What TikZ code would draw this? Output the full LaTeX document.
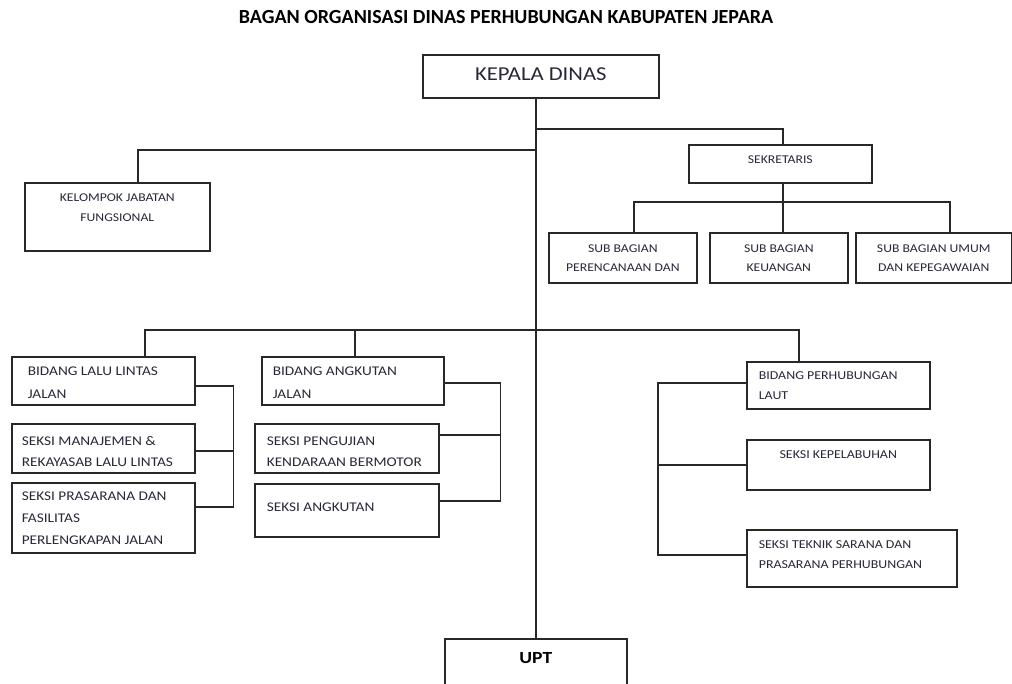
\documentclass[tikz,border=0pt]{standalone}
\usepackage{fontspec}
\setmainfont{Carlito}
\newfontfamily\boxfont[FakeStretch=1.15]{Carlito}

\definecolor{ink}{RGB}{40,40,55}
\definecolor{rule}{RGB}{40,40,40}

\newcommand{\unittext}[5]{\parbox[c][#2][t]{#1}{\vspace*{#3}#4#5}}
\newcommand{\midfmt}[2]{\boxfont\fontsize{#1}{#2}\selectfont\centering}
\newcommand{\leftfmt}[3]{\boxfont\fontsize{#1}{#2}\selectfont\leftskip=#3\relax}

\tikzset{
  unit/.style={draw=rule, line width=1.6pt, inner sep=0pt, anchor=north west, text=ink},
  link/.style={draw=rule, line width=1.6pt},
}

\begin{document}
\begin{tikzpicture}[x=1pt,y=-1pt]
\useasboundingbox (0,0) rectangle (1012,684);

\node[font=\fontsize{20}{24}\selectfont\bfseries] (title) at (506,17) {BAGAN ORGANISASI DINAS PERHUBUNGAN KABUPATEN JEPARA};

\node[unit] (kepala) at (422,54) {\unittext{236pt}{43pt}{13.2pt}{\midfmt{19.7}{24}}{KEPALA DINAS}};
\node[unit] (kjf) at (24,182) {\unittext{185pt}{68pt}{11.2pt}{\midfmt{11.9}{20}}{KELOMPOK JABATAN\\FUNGSIONAL}};
\node[unit] (sek) at (688,144) {\unittext{183pt}{38pt}{11.2pt}{\midfmt{11.9}{19}}{SEKRETARIS}};
\node[unit] (sbp) at (548,232) {\unittext{148pt}{50pt}{12.2pt}{\midfmt{11.9}{19}}{SUB BAGIAN\\PERENCANAAN DAN}};
\node[unit] (sbk) at (709,232) {\unittext{138pt}{50pt}{12.2pt}{\midfmt{11.9}{19}}{SUB BAGIAN\\KEUANGAN}};
\node[unit] (sbu) at (855,232) {\unittext{156pt}{50pt}{12.2pt}{\midfmt{11.9}{19}}{SUB BAGIAN UMUM\\DAN KEPEGAWAIAN}};

\node[unit] (llaj) at (11,356) {\unittext{183pt}{48pt}{9.7pt}{\leftfmt{13.3}{23}{16pt}}{BIDANG LALU LINTAS\\JALAN}};
\node[unit] (smr) at (11,423) {\unittext{183pt}{49pt}{12.7pt}{\leftfmt{13.3}{21}{10pt}}{SEKSI MANAJEMEN \&\\REKAYASAB LALU LINTAS}};
\node[unit] (spf) at (11,482) {\unittext{183pt}{70pt}{8.7pt}{\leftfmt{13.3}{22}{10pt}}{SEKSI PRASARANA DAN\\FASILITAS\\PERLENGKAPAN JALAN}};

\node[unit] (baj) at (261,356) {\unittext{182pt}{48pt}{9.7pt}{\leftfmt{13.3}{23}{11pt}}{BIDANG ANGKUTAN\\JALAN}};
\node[unit] (spk) at (254,423) {\unittext{184pt}{49pt}{12.7pt}{\leftfmt{13.3}{21}{12pt}}{SEKSI PENGUJIAN\\KENDARAAN BERMOTOR}};
\node[unit] (sa) at (254,483) {\unittext{184pt}{53pt}{18.7pt}{\leftfmt{13.3}{21}{12pt}}{SEKSI ANGKUTAN}};

\node[unit] (bphl) at (746,361) {\unittext{183pt}{47pt}{10.1pt}{\leftfmt{12.1}{20}{12pt}}{BIDANG PERHUBUNGAN\\LAUT}};
\node[unit] (skp) at (746,439) {\unittext{183pt}{50pt}{11.1pt}{\midfmt{12.1}{20}}{SEKSI KEPELABUHAN}};
\node[unit] (stsp) at (746,529) {\unittext{210pt}{57pt}{11.1pt}{\leftfmt{12.1}{20}{12pt}}{SEKSI TEKNIK SARANA DAN\\PRASARANA PERHUBUNGAN}};

\node[unit, text=black] (upt) at (444,638) {\unittext{182pt}{60pt}{13.5pt}{\midfmt{17}{20}\bfseries}{UPT}};

\coordinate (sekjoin) at (535,129);
\coordinate (kjfjoin) at (535,150);

\draw[link] (upt.north |- kepala.south) -- (upt.north);
\draw[link] (sekjoin) -| ([xshift=2.5pt]sek.north);
\draw[link] (kjfjoin) -| ([xshift=20.5pt]kjf.north);
\draw[link] ([xshift=2.5pt]sek.south) -- ([xshift=2.5pt]sek.south |- sbk.north);
\draw[link] ([xshift=11pt]sbp.north) -- ++(0,-30) -| ([xshift=16pt]sbu.north);

\draw[link] ([xshift=41.5pt]llaj.north) -- ++(0,-26) -| ([xshift=-39.5pt]bphl.north);
\draw[link] ([xshift=2pt]baj.north) -- ++(0,-26);

\draw[link] ([yshift=-5pt]llaj.east) -- ++(38,0) |- ([yshift=11pt]spf.east);
\draw[link] ([yshift=-2.5pt]smr.east) -- ++(38,0);

\draw[link] ([yshift=-2pt]baj.east) -- ++(56,0) |- ([yshift=9.5pt]sa.east);
\draw[link] ([yshift=13.5pt]spk.east) -- ++(61,0);

\draw[link] ([yshift=2.5pt]bphl.west) -- ++(-88,0) |- ([yshift=3.5pt]stsp.west);
\draw[link] (skp.west) -- ++(-88,0);
\end{tikzpicture}
\end{document}
